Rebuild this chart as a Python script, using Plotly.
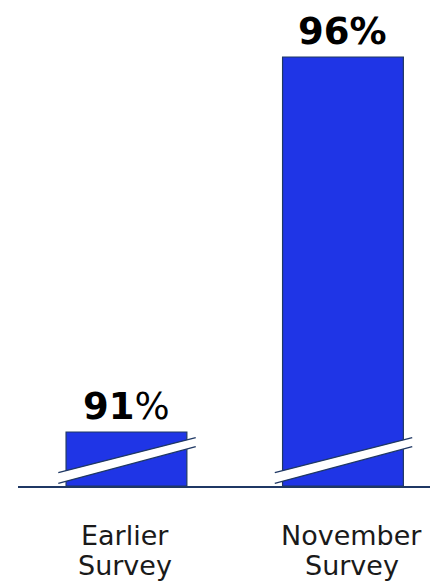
import plotly.graph_objects as go

categories = ["Earlier Survey", "November Survey"]
values = [91, 96]
value_labels = ["<b>91</b>%", "<b>96%</b>"]
axis_base = 90.28

BAR = "#1F35E6"
NAVY = "#1F3864"
FONT = "DejaVu Sans"

x_idx = list(range(len(categories)))
label_xshift = [-1, 9]

fig = go.Figure()
fig.add_trace(go.Bar(
    x=x_idx, y=[v - axis_base for v in values], base=axis_base,
    width=0.558, marker=dict(color=BAR, line=dict(color=NAVY, width=1.2)),
    hoverinfo="skip",
))

annotations = []
shapes = []
for i, (v, lab, cat) in enumerate(zip(values, value_labels, categories)):
    annotations.append(dict(x=i, y=v, xref="x", yref="y", text=lab, showarrow=False,
                            yanchor="bottom", yshift=2,
                            font=dict(family=FONT, size=37, color="black")))
    words = cat.split(" ")
    for j, w in enumerate(words):
        annotations.append(dict(x=i, y=0, xref="x", yref="paper", text=w, showarrow=False,
                                yanchor="top", yshift=-32 - 30 * j, xshift=label_xshift[i],
                                font=dict(family=FONT, size=27, color="#1a1a1a")))
    # axis break band
    x0, x1 = i - 0.315, i + 0.32
    up0, up1 = axis_base + 0.177, axis_base + 0.644
    lo0, lo1 = axis_base + 0.036, axis_base + 0.524
    shapes.append(dict(type="path", xref="x", yref="y",
                       path=f"M {x0},{lo0} L {x1},{lo1} L {x1},{up1} L {x0},{up0} Z",
                       fillcolor="white", line=dict(width=0), layer="above"))
    shapes.append(dict(type="line", xref="x", yref="y", x0=x0, y0=up0, x1=x1, y1=up1,
                       line=dict(color=NAVY, width=1.3), layer="above"))
    shapes.append(dict(type="line", xref="x", yref="y", x0=x0, y0=lo0, x1=x1, y1=lo1,
                       line=dict(color=NAVY, width=1.3), layer="above"))

fig.update_layout(
    width=430, height=586,
    margin=dict(l=18, r=0, t=0, b=100),
    paper_bgcolor="white", plot_bgcolor="white",
    showlegend=False,
    xaxis=dict(range=[-0.501, 1.402], showticklabels=False, showgrid=False, zeroline=False,
               showline=True, linecolor=NAVY, linewidth=1.5, ticks=""),
    yaxis=dict(range=[axis_base, 96.76], visible=False, showgrid=False, zeroline=False),
    annotations=annotations,
    shapes=shapes,
)

fig.write_html("out.html")
